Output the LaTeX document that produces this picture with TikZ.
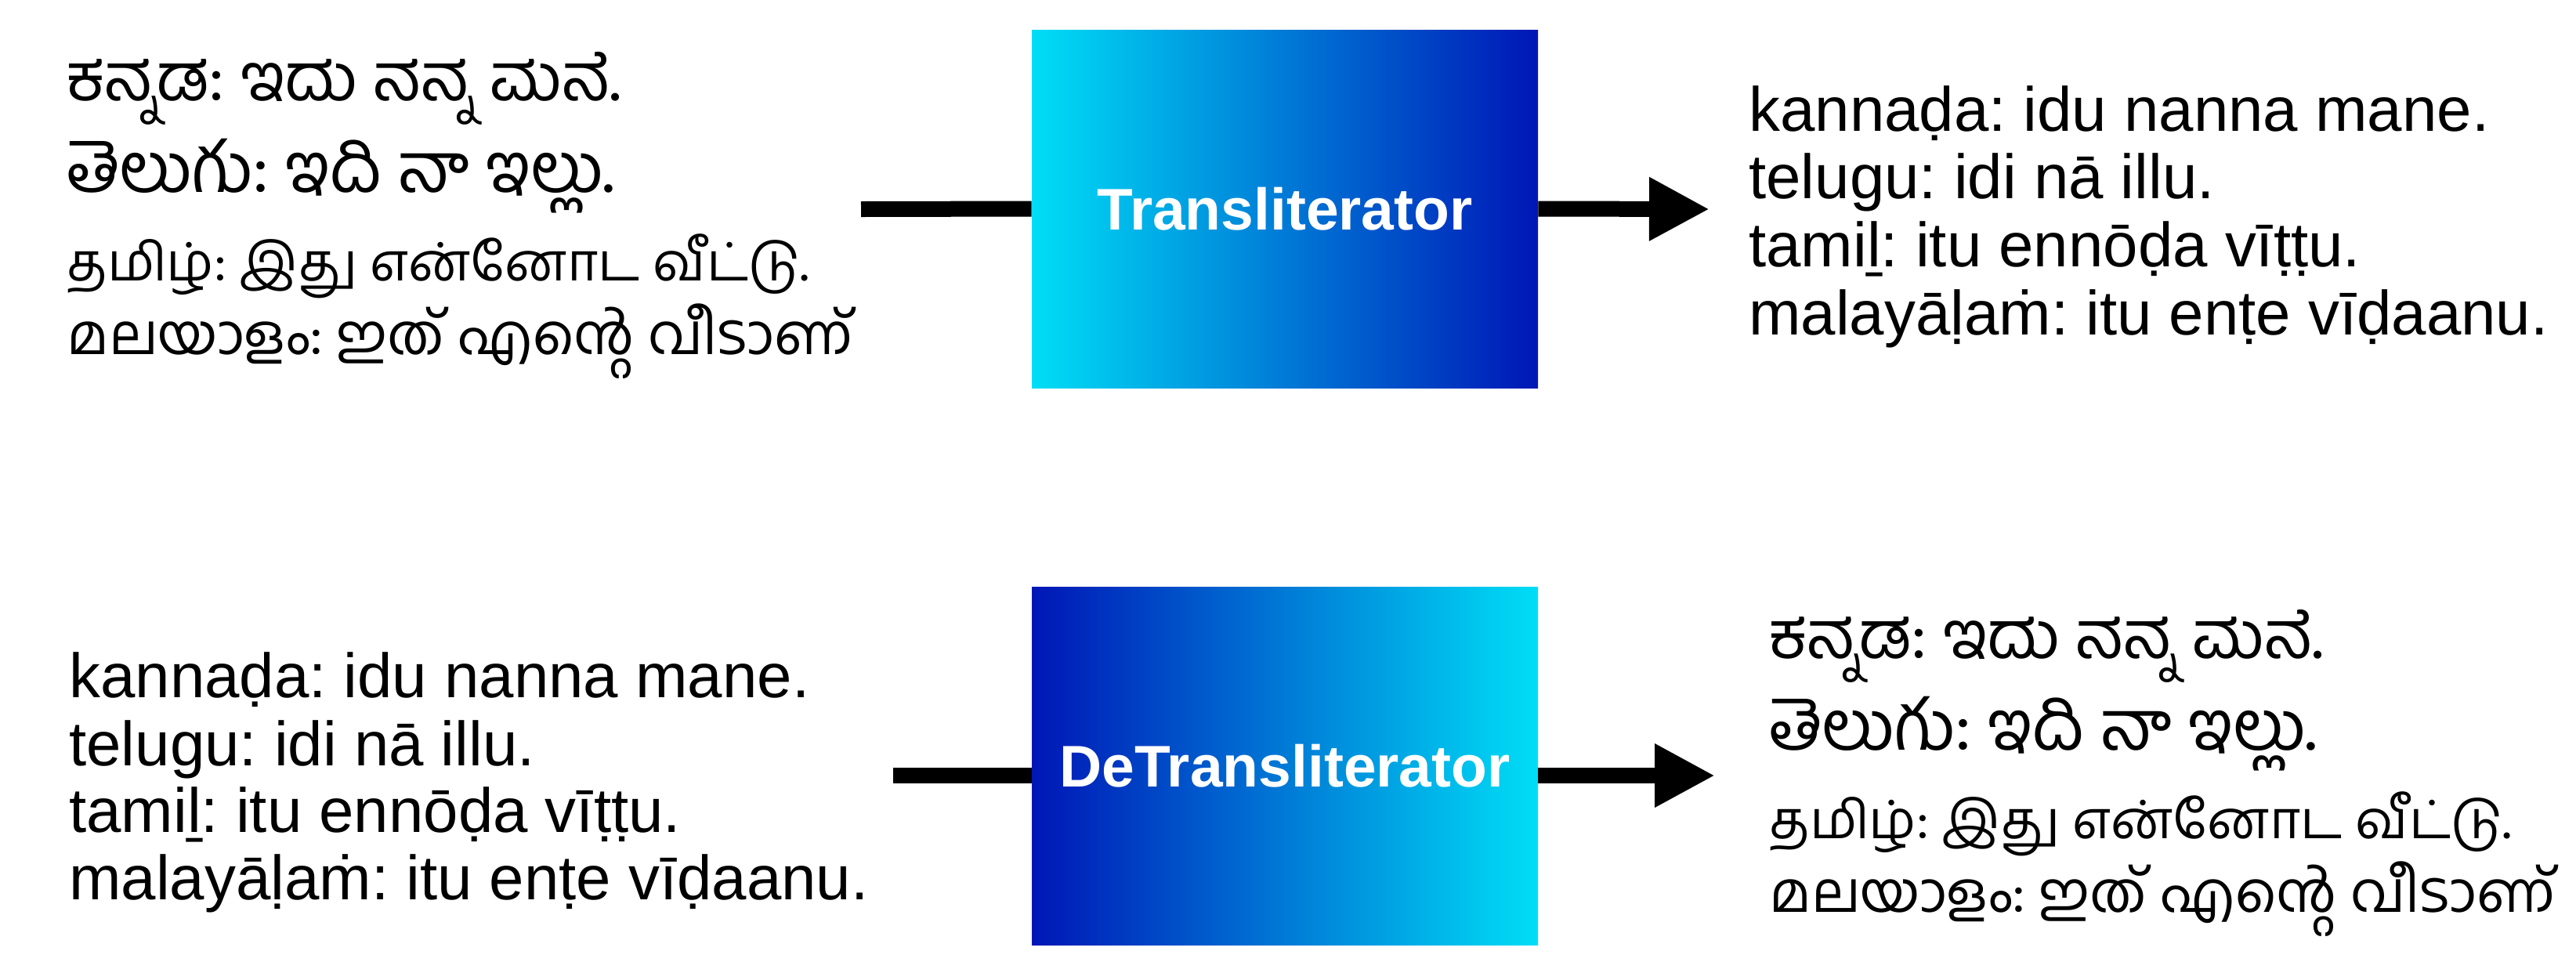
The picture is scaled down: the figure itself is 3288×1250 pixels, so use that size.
\documentclass[tikz,border=0pt]{standalone}
\usepackage{fontspec}
\setmainfont{Liberation Sans}
\newfontfamily\kanfont[Script=Kannada]{Hind Mysuru}
\newfontfamily\telfont[Script=Telugu]{Hind Guntur}
\newfontfamily\tamfont[Script=Tamil]{Hind Madurai}
\newfontfamily\malfont[Script=Malayalam]{Hind Kochi}
\usetikzlibrary{arrows.meta}
\frenchspacing
\definecolor{cyanend}{RGB}{0,222,246}
\definecolor{blueend}{RGB}{0,22,182}
\tikzset{
  procbox/.style={rectangle, minimum width=323pt, minimum height=228.5pt, inner sep=0pt,
    text=white, font=\fontsize{37.5pt}{40pt}\selectfont\bfseries},
  latin/.style={anchor=base west, inner sep=0pt, font=\fontsize{39.9pt}{44pt}\selectfont},
  kan/.style={anchor=base west, inner sep=0pt, font=\kanfont\fontsize{42.5pt}{46pt}\selectfont},
  tel/.style={anchor=base west, inner sep=0pt, font=\telfont\fontsize{44.6pt}{48pt}\selectfont},
  tam/.style={anchor=base west, inner sep=0pt, font=\tamfont\fontsize{33.8pt}{37pt}\selectfont},
  mal/.style={anchor=base west, inner sep=0pt, font=\malfont\fontsize{35.6pt}{39pt}\selectfont},
  flow/.style={line width=10pt},
  flowarrow/.style={line width=10pt, -{Triangle[length=38.5pt,width=38pt]}}
}
\begin{document}
\begin{tikzpicture}[x=0.5pt,y=-0.5pt]
\path[use as bounding box, fill=white] (0,0) rectangle (3288,1250);

% boxes
\node[procbox, left color=cyanend, right color=blueend] (tr) at (1640,266.5) {Transliterator};
\node[procbox, left color=blueend, right color=cyanend] (detr) at (1640,977.5) {DeTransliterator};

% top-left native scripts
\node[kan] (tlk) at (85,128) {ಕನ್ನಡ: ಇದು ನನ್ನ ಮನೆ.};
\node[tel] (tlt) at (85,245) {తెలుగు: ఇది నా ఇల్లు.};
\node[tam] (tlm) at (85,358) {தமிழ்: இது என்னோட வீட்டு.};
\node[mal] (tll) at (85,452) {മലയാളം: ഇത് എന്റെ വീടാണ്};

% top-right romanized
\node[latin] (trk) at (2232,167) {kannaḍa: idu nanna mane.};
\node[latin] (trt) at (2232,253) {telugu: idi nā illu.};
\node[latin] (trm) at (2232,340) {tamiḻ: itu ennōḍa vīṭṭu.};
\node[latin] (trl) at (2232,427) {malayāḷaṁ: itu enṭe vīḍaanu.};

% bottom-left romanized
\node[latin] (blk) at (88,890) {kannaḍa: idu nanna mane.};
\node[latin] (blt) at (88,977) {telugu: idi nā illu.};
\node[latin] (blm) at (88,1062) {tamiḻ: itu ennōḍa vīṭṭu.};
\node[latin] (bll) at (88,1148) {malayāḷaṁ: itu enṭe vīḍaanu.};

% bottom-right native scripts
\node[kan] (brk) at (2258,840) {ಕನ್ನಡ: ಇದು ನನ್ನ ಮನೆ.};
\node[tel] (brt) at (2258,957) {తెలుగు: ఇది నా ఇల్లు.};
\node[tam] (brm) at (2258,1070) {தமிழ்: இது என்னோட வீட்டு.};
\node[mal] (brl) at (2258,1164) {മലയാളം: ഇത് എന്റെ വീടാണ്};

% connectors
\coordinate (in1) at (1099,267);
\coordinate (out1) at (2182,267);
\coordinate (in2) at (1140,990);
\coordinate (out2) at (2189,990);
\draw[flow] (in1) -- (tr.west);
\draw[flowarrow] (tr.east) -- (out1);
\draw[flow] (in2) -- (in2 -| detr.west);
\draw[flowarrow] (out2 -| detr.east) -- (out2);
\end{tikzpicture}
\end{document}
